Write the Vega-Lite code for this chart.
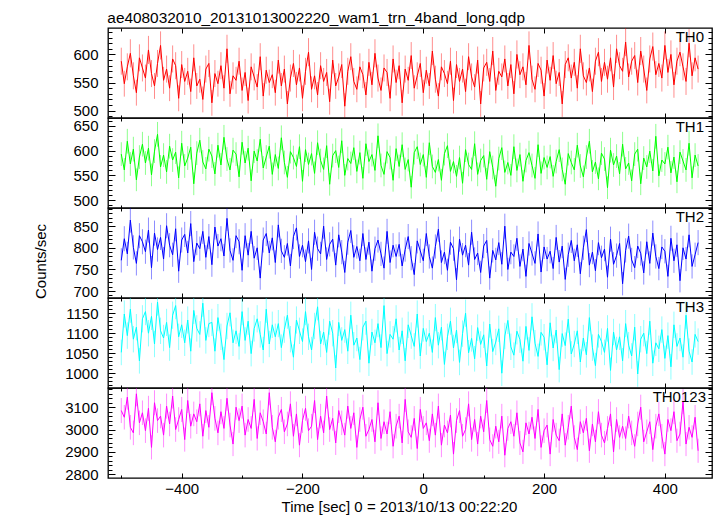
{
"$schema": "https://vega.github.io/schema/vega-lite/v6.json",
"background": "#ffffff",
"padding": {"left": 33, "top": 11, "right": 6, "bottom": 0},
"title": {"text": "ae408032010_20131013002220_wam1_trn_4band_long.qdp", "anchor": "start", "dx": 74, "offset": 0, "fontSize": 15.4, "fontWeight": "normal", "font": "Liberation Sans", "color": "#000000"},
"datasets": {"lc": [
{"t":-500,"th0":588,"e0":24,"th1":593,"e1":24,"th2":771,"e2":28,"th3":1052,"e3":32,"tot":3085,"e4":56},
{"t":-495,"th0":548,"e0":23,"th1":561,"e1":24,"th2":821,"e2":29,"th3":1148,"e3":34,"tot":3055,"e4":55},
{"t":-490,"th0":578,"e0":24,"th1":619,"e1":25,"th2":786,"e2":28,"th3":1094,"e3":33,"tot":3145,"e4":56},
{"t":-485,"th0":602,"e0":25,"th1":573,"e1":24,"th2":864,"e2":29,"th3":1160,"e3":34,"tot":3010,"e4":55},
{"t":-480,"th0":562,"e0":24,"th1":603,"e1":25,"th2":801,"e2":28,"th3":1085,"e3":33,"tot":2985,"e4":55},
{"t":-475,"th0":532,"e0":23,"th1":541,"e1":23,"th2":764,"e2":28,"th3":1115,"e3":33,"tot":3160,"e4":56},
{"t":-470,"th0":594,"e0":24,"th1":587,"e1":24,"th2":828,"e2":29,"th3":1031,"e3":32,"tot":3030,"e4":55},
{"t":-465,"th0":576,"e0":24,"th1":613,"e1":25,"th2":814,"e2":29,"th3":1136,"e3":34,"tot":3075,"e4":55},
{"t":-460,"th0":558,"e0":24,"th1":575,"e1":24,"th2":791,"e2":28,"th3":1154,"e3":34,"tot":2995,"e4":55},
{"t":-455,"th0":608,"e0":25,"th1":605,"e1":25,"th2":841,"e2":29,"th3":1100,"e3":33,"tot":3095,"e4":56},
{"t":-450,"th0":566,"e0":24,"th1":551,"e1":23,"th2":754,"e2":27,"th3":1142,"e3":34,"tot":2920,"e4":54},
{"t":-445,"th0":544,"e0":23,"th1":599,"e1":24,"th2":834,"e2":29,"th3":1073,"e3":33,"tot":3120,"e4":56},
{"t":-440,"th0":584,"e0":24,"th1":633,"e1":25,"th2":796,"e2":28,"th3":1178,"e3":34,"tot":3040,"e4":55},
{"t":-435,"th0":616,"e0":25,"th1":567,"e1":24,"th2":824,"e2":29,"th3":1106,"e3":33,"tot":3060,"e4":55},
{"t":-430,"th0":554,"e0":24,"th1":591,"e1":24,"th2":774,"e2":28,"th3":1088,"e3":33,"tot":2975,"e4":55},
{"t":-425,"th0":574,"e0":24,"th1":557,"e1":24,"th2":851,"e2":29,"th3":1127,"e3":34,"tot":3105,"e4":56},
{"t":-420,"th0":540,"e0":23,"th1":609,"e1":25,"th2":806,"e2":28,"th3":1064,"e3":33,"tot":3025,"e4":55},
{"t":-415,"th0":592,"e0":24,"th1":581,"e1":24,"th2":784,"e2":28,"th3":1145,"e3":34,"tot":3150,"e4":56},
{"t":-410,"th0":580,"e0":24,"th1":597,"e1":24,"th2":844,"e2":29,"th3":1169,"e3":34,"tot":3000,"e4":55},
{"t":-405,"th0":522,"e0":23,"th1":545,"e1":23,"th2":746,"e2":27,"th3":1091,"e3":33,"tot":3045,"e4":55},
{"t":-400,"th0":582,"e0":24,"th1":615,"e1":25,"th2":818,"e2":29,"th3":1121,"e3":33,"tot":3090,"e4":56},
{"t":-395,"th0":552,"e0":24,"th1":569,"e1":24,"th2":831,"e2":29,"th3":1076,"e3":33,"tot":2955,"e4":54},
{"t":-390,"th0":570,"e0":24,"th1":585,"e1":24,"th2":788,"e2":28,"th3":1133,"e3":34,"tot":3130,"e4":56},
{"t":-385,"th0":534,"e0":23,"th1":607,"e1":25,"th2":856,"e2":29,"th3":1055,"e3":32,"tot":3015,"e4":55},
{"t":-380,"th0":594,"e0":24,"th1":533,"e1":23,"th2":768,"e2":28,"th3":1157,"e3":34,"tot":3070,"e4":55},
{"t":-375,"th0":544,"e0":23,"th1":595,"e1":24,"th2":811,"e2":28,"th3":1112,"e3":33,"tot":3035,"e4":55},
{"t":-370,"th0":556,"e0":24,"th1":621,"e1":25,"th2":798,"e2":28,"th3":1097,"e3":33,"tot":3115,"e4":56},
{"t":-365,"th0":520,"e0":23,"th1":577,"e1":24,"th2":838,"e2":29,"th3":1175,"e3":34,"tot":2970,"e4":55},
{"t":-360,"th0":574,"e0":24,"th1":563,"e1":24,"th2":778,"e2":28,"th3":1082,"e3":33,"tot":3085,"e4":56},
{"t":-355,"th0":584,"e0":24,"th1":603,"e1":25,"th2":826,"e2":29,"th3":1124,"e3":34,"tot":3010,"e4":55},
{"t":-350,"th0":514,"e0":23,"th1":589,"e1":24,"th2":761,"e2":28,"th3":1127,"e3":34,"tot":3165,"e4":56},
{"t":-345,"th0":566,"e0":24,"th1":553,"e1":24,"th2":848,"e2":29,"th3":1055,"e3":32,"tot":3050,"e4":55},
{"t":-340,"th0":548,"e0":23,"th1":611,"e1":25,"th2":804,"e2":28,"th3":1139,"e3":34,"tot":2985,"e4":55},
{"t":-335,"th0":580,"e0":24,"th1":571,"e1":24,"th2":821,"e2":29,"th3":1091,"e3":33,"tot":3080,"e4":56},
{"t":-330,"th0":540,"e0":23,"th1":627,"e1":25,"th2":781,"e2":28,"th3":1034,"e3":32,"tot":3005,"e4":55},
{"t":-325,"th0":610,"e0":25,"th1":583,"e1":24,"th2":868,"e2":29,"th3":1118,"e3":33,"tot":3140,"e4":56},
{"t":-320,"th0":530,"e0":23,"th1":561,"e1":24,"th2":794,"e2":28,"th3":1151,"e3":34,"tot":3020,"e4":55},
{"t":-315,"th0":562,"e0":24,"th1":601,"e1":25,"th2":771,"e2":28,"th3":1076,"e3":33,"tot":2935,"e4":54},
{"t":-310,"th0":554,"e0":24,"th1":593,"e1":24,"th2":828,"e2":29,"th3":1106,"e3":33,"tot":3100,"e4":56},
{"t":-305,"th0":588,"e0":24,"th1":547,"e1":23,"th2":814,"e2":29,"th3":1067,"e3":33,"tot":3040,"e4":55},
{"t":-300,"th0":536,"e0":23,"th1":617,"e1":25,"th2":748,"e2":27,"th3":1154,"e3":34,"tot":3105,"e4":56},
{"t":-295,"th0":568,"e0":24,"th1":575,"e1":24,"th2":828,"e2":29,"th3":1082,"e3":33,"tot":2975,"e4":55},
{"t":-290,"th0":518,"e0":23,"th1":605,"e1":25,"th2":783,"e2":28,"th3":1130,"e3":34,"tot":3045,"e4":55},
{"t":-285,"th0":578,"e0":24,"th1":539,"e1":23,"th2":838,"e2":29,"th3":1049,"e3":32,"tot":3005,"e4":55},
{"t":-280,"th0":560,"e0":24,"th1":599,"e1":24,"th2":776,"e2":28,"th3":1112,"e3":33,"tot":3135,"e4":56},
{"t":-275,"th0":542,"e0":23,"th1":579,"e1":24,"th2":800,"e2":28,"th3":1136,"e3":34,"tot":2960,"e4":54},
{"t":-270,"th0":596,"e0":24,"th1":623,"e1":25,"th2":730,"e2":27,"th3":1097,"e3":33,"tot":3075,"e4":55},
{"t":-265,"th0":526,"e0":23,"th1":565,"e1":24,"th2":818,"e2":29,"th3":1058,"e3":33,"tot":3035,"e4":55},
{"t":-260,"th0":572,"e0":24,"th1":587,"e1":24,"th2":833,"e2":29,"th3":1160,"e3":34,"tot":2980,"e4":55},
{"t":-255,"th0":550,"e0":23,"th1":609,"e1":25,"th2":788,"e2":28,"th3":1073,"e3":33,"tot":3165,"e4":56},
{"t":-250,"th0":564,"e0":24,"th1":552,"e1":24,"th2":823,"e2":29,"th3":1121,"e3":33,"tot":3010,"e4":55},
{"t":-245,"th0":532,"e0":23,"th1":592,"e1":24,"th2":766,"e2":28,"th3":1091,"e3":33,"tot":2945,"e4":54},
{"t":-240,"th0":590,"e0":24,"th1":564,"e1":24,"th2":853,"e2":29,"th3":1124,"e3":34,"tot":3055,"e4":55},
{"t":-235,"th0":544,"e0":23,"th1":626,"e1":25,"th2":793,"e2":28,"th3":1064,"e3":33,"tot":3090,"e4":56},
{"t":-230,"th0":574,"e0":24,"th1":576,"e1":24,"th2":778,"e2":28,"th3":1109,"e3":33,"tot":2990,"e4":55},
{"t":-225,"th0":512,"e0":23,"th1":546,"e1":23,"th2":810,"e2":28,"th3":1145,"e3":34,"tot":3025,"e4":55},
{"t":-220,"th0":558,"e0":24,"th1":598,"e1":24,"th2":758,"e2":28,"th3":1085,"e3":33,"tot":3115,"e4":56},
{"t":-215,"th0":584,"e0":24,"th1":586,"e1":24,"th2":826,"e2":29,"th3":1040,"e3":32,"tot":2970,"e4":55},
{"t":-210,"th0":546,"e0":23,"th1":568,"e1":24,"th2":846,"e2":29,"th3":1133,"e3":34,"tot":3070,"e4":55},
{"t":-205,"th0":576,"e0":24,"th1":608,"e1":25,"th2":780,"e2":28,"th3":1106,"e3":33,"tot":2930,"e4":54},
{"t":-200,"th0":522,"e0":23,"th1":538,"e1":23,"th2":806,"e2":28,"th3":1079,"e3":33,"tot":3040,"e4":55},
{"t":-195,"th0":570,"e0":24,"th1":602,"e1":25,"th2":768,"e2":28,"th3":1154,"e3":34,"tot":3095,"e4":56},
{"t":-190,"th0":604,"e0":25,"th1":572,"e1":24,"th2":816,"e2":29,"th3":1091,"e3":33,"tot":2995,"e4":55},
{"t":-185,"th0":538,"e0":23,"th1":594,"e1":24,"th2":750,"e2":27,"th3":1058,"e3":33,"tot":3015,"e4":55},
{"t":-180,"th0":562,"e0":24,"th1":554,"e1":24,"th2":836,"e2":29,"th3":1118,"e3":33,"tot":3130,"e4":56},
{"t":-175,"th0":528,"e0":23,"th1":616,"e1":25,"th2":798,"e2":28,"th3":1166,"e3":34,"tot":2955,"e4":54},
{"t":-170,"th0":580,"e0":24,"th1":580,"e1":24,"th2":786,"e2":28,"th3":1073,"e3":33,"tot":3060,"e4":55},
{"t":-165,"th0":552,"e0":24,"th1":562,"e1":24,"th2":850,"e2":29,"th3":1103,"e3":33,"tot":2985,"e4":55},
{"t":-160,"th0":568,"e0":24,"th1":610,"e1":25,"th2":773,"e2":28,"th3":1052,"e3":32,"tot":3150,"e4":56},
{"t":-155,"th0":516,"e0":23,"th1":532,"e1":23,"th2":808,"e2":28,"th3":1130,"e3":34,"tot":3000,"e4":55},
{"t":-150,"th0":590,"e0":24,"th1":590,"e1":24,"th2":820,"e2":29,"th3":1100,"e3":33,"tot":3050,"e4":55},
{"t":-145,"th0":544,"e0":23,"th1":600,"e1":25,"th2":760,"e2":28,"th3":1013,"e3":32,"tot":2940,"e4":54},
{"t":-140,"th0":560,"e0":24,"th1":566,"e1":24,"th2":830,"e2":29,"th3":1127,"e3":34,"tot":3085,"e4":56},
{"t":-135,"th0":582,"e0":24,"th1":620,"e1":25,"th2":790,"e2":28,"th3":1082,"e3":33,"tot":3030,"e4":55},
{"t":-130,"th0":508,"e0":23,"th1":550,"e1":23,"th2":743,"e2":27,"th3":1109,"e3":33,"tot":2975,"e4":55},
{"t":-125,"th0":570,"e0":24,"th1":584,"e1":24,"th2":813,"e2":29,"th3":1055,"e3":32,"tot":3105,"e4":56},
{"t":-120,"th0":596,"e0":24,"th1":574,"e1":24,"th2":840,"e2":29,"th3":1145,"e3":34,"tot":3005,"e4":55},
{"t":-115,"th0":552,"e0":24,"th1":606,"e1":25,"th2":778,"e2":28,"th3":1070,"e3":33,"tot":3075,"e4":55},
{"t":-110,"th0":538,"e0":23,"th1":558,"e1":24,"th2":803,"e2":28,"th3":1088,"e3":33,"tot":2920,"e4":54},
{"t":-105,"th0":578,"e0":24,"th1":596,"e1":24,"th2":770,"e2":28,"th3":1034,"e3":32,"tot":3045,"e4":55},
{"t":-100,"th0":564,"e0":24,"th1":544,"e1":23,"th2":833,"e2":29,"th3":1115,"e3":33,"tot":3100,"e4":56},
{"t":-95,"th0":528,"e0":23,"th1":614,"e1":25,"th2":773,"e2":28,"th3":1130,"e3":34,"tot":2970,"e4":55},
{"t":-90,"th0":586,"e0":24,"th1":578,"e1":24,"th2":813,"e2":29,"th3":1025,"e3":32,"tot":3000,"e4":55},
{"t":-85,"th0":546,"e0":23,"th1":592,"e1":24,"th2":746,"e2":27,"th3":1103,"e3":33,"tot":3045,"e4":55},
{"t":-80,"th0":602,"e0":25,"th1":560,"e1":24,"th2":798,"e2":28,"th3":1076,"e3":33,"tot":2945,"e4":54},
{"t":-75,"th0":558,"e0":24,"th1":630,"e1":25,"th2":818,"e2":29,"th3":1124,"e3":34,"tot":3120,"e4":56},
{"t":-70,"th0":536,"e0":23,"th1":570,"e1":24,"th2":786,"e2":28,"th3":1064,"e3":33,"tot":2960,"e4":54},
{"t":-65,"th0":576,"e0":24,"th1":552,"e1":24,"th2":753,"e2":27,"th3":1169,"e3":34,"tot":3035,"e4":55},
{"t":-60,"th0":568,"e0":24,"th1":598,"e1":24,"th2":838,"e2":29,"th3":1049,"e3":32,"tot":2980,"e4":55},
{"t":-55,"th0":522,"e0":23,"th1":586,"e1":24,"th2":766,"e2":28,"th3":1097,"e3":33,"tot":3080,"e4":56},
{"t":-50,"th0":592,"e0":24,"th1":540,"e1":23,"th2":806,"e2":28,"th3":1085,"e3":33,"tot":2925,"e4":54},
{"t":-45,"th0":550,"e0":23,"th1":604,"e1":25,"th2":780,"e2":28,"th3":1136,"e3":34,"tot":3015,"e4":55},
{"t":-40,"th0":580,"e0":24,"th1":568,"e1":24,"th2":808,"e2":28,"th3":1058,"e3":33,"tot":3060,"e4":55},
{"t":-35,"th0":514,"e0":23,"th1":612,"e1":25,"th2":758,"e2":28,"th3":1106,"e3":33,"tot":2940,"e4":54},
{"t":-30,"th0":574,"e0":24,"th1":562,"e1":24,"th2":796,"e2":28,"th3":1031,"e3":32,"tot":3135,"e4":56},
{"t":-25,"th0":554,"e0":24,"th1":582,"e1":24,"th2":826,"e2":29,"th3":1121,"e3":33,"tot":2990,"e4":55},
{"t":-20,"th0":598,"e0":24,"th1":526,"e1":23,"th2":776,"e2":28,"th3":1094,"e3":33,"tot":2965,"e4":54},
{"t":-15,"th0":540,"e0":23,"th1":596,"e1":24,"th2":738,"e2":27,"th3":1067,"e3":33,"tot":3050,"e4":55},
{"t":-10,"th0":562,"e0":24,"th1":608,"e1":25,"th2":816,"e2":29,"th3":1148,"e3":34,"tot":2915,"e4":54},
{"t":-5,"th0":584,"e0":24,"th1":572,"e1":24,"th2":793,"e2":28,"th3":1043,"e3":32,"tot":3090,"e4":56},
{"t":0,"th0":532,"e0":23,"th1":592,"e1":24,"th2":770,"e2":28,"th3":1112,"e3":33,"tot":3005,"e4":55},
{"t":5,"th0":572,"e0":24,"th1":546,"e1":23,"th2":833,"e2":29,"th3":1079,"e3":33,"tot":3030,"e4":55},
{"t":10,"th0":544,"e0":23,"th1":616,"e1":25,"th2":780,"e2":28,"th3":1100,"e3":33,"tot":2950,"e4":54},
{"t":15,"th0":606,"e0":25,"th1":568,"e1":24,"th2":753,"e2":27,"th3":1052,"e3":32,"tot":3070,"e4":55},
{"t":20,"th0":556,"e0":24,"th1":556,"e1":24,"th2":803,"e2":28,"th3":1139,"e3":34,"tot":2975,"e4":55},
{"t":25,"th0":526,"e0":23,"th1":582,"e1":24,"th2":843,"e2":29,"th3":1070,"e3":33,"tot":3105,"e4":56},
{"t":30,"th0":578,"e0":24,"th1":540,"e1":23,"th2":766,"e2":28,"th3":1115,"e3":33,"tot":2930,"e4":54},
{"t":35,"th0":566,"e0":24,"th1":594,"e1":24,"th2":790,"e2":28,"th3":1022,"e3":32,"tot":3020,"e4":55},
{"t":40,"th0":548,"e0":23,"th1":610,"e1":25,"th2":748,"e2":27,"th3":1091,"e3":33,"tot":2985,"e4":55},
{"t":45,"th0":588,"e0":24,"th1":558,"e1":24,"th2":813,"e2":29,"th3":1130,"e3":34,"tot":3065,"e4":55},
{"t":50,"th0":518,"e0":23,"th1":578,"e1":24,"th2":798,"e2":28,"th3":1063,"e3":33,"tot":2890,"e4":54},
{"t":55,"th0":582,"e0":24,"th1":548,"e1":23,"th2":726,"e2":27,"th3":1108,"e3":33,"tot":3040,"e4":55},
{"t":60,"th0":552,"e0":24,"th1":586,"e1":24,"th2":820,"e2":29,"th3":1027,"e3":32,"tot":3085,"e4":56},
{"t":65,"th0":574,"e0":24,"th1":534,"e1":23,"th2":783,"e2":28,"th3":1099,"e3":33,"tot":2970,"e4":55},
{"t":70,"th0":534,"e0":23,"th1":602,"e1":25,"th2":806,"e2":28,"th3":1150,"e3":34,"tot":3000,"e4":55},
{"t":75,"th0":596,"e0":24,"th1":572,"e1":24,"th2":760,"e2":28,"th3":1051,"e3":32,"tot":3115,"e4":56},
{"t":80,"th0":560,"e0":24,"th1":562,"e1":24,"th2":836,"e2":29,"th3":1087,"e3":33,"tot":2955,"e4":54},
{"t":85,"th0":542,"e0":23,"th1":614,"e1":25,"th2":773,"e2":28,"th3":1036,"e3":32,"tot":3045,"e4":55},
{"t":90,"th0":590,"e0":24,"th1":552,"e1":24,"th2":788,"e2":28,"th3":1114,"e3":33,"tot":2935,"e4":54},
{"t":95,"th0":512,"e0":23,"th1":580,"e1":24,"th2":743,"e2":27,"th3":1072,"e3":33,"tot":3060,"e4":55},
{"t":100,"th0":576,"e0":24,"th1":590,"e1":24,"th2":804,"e2":28,"th3":1096,"e3":33,"tot":2990,"e4":55},
{"t":105,"th0":586,"e0":24,"th1":542,"e1":23,"th2":817,"e2":29,"th3":1018,"e3":32,"tot":3130,"e4":56},
{"t":110,"th0":552,"e0":24,"th1":598,"e1":24,"th2":730,"e2":27,"th3":1123,"e3":34,"tot":2955,"e4":54},
{"t":115,"th0":606,"e0":25,"th1":566,"e1":24,"th2":794,"e2":28,"th3":1054,"e3":32,"tot":2925,"e4":54},
{"t":120,"th0":536,"e0":23,"th1":528,"e1":23,"th2":772,"e2":28,"th3":1078,"e3":33,"tot":3015,"e4":55},
{"t":125,"th0":570,"e0":24,"th1":584,"e1":24,"th2":812,"e2":29,"th3":1111,"e3":33,"tot":2945,"e4":54},
{"t":130,"th0":560,"e0":24,"th1":606,"e1":25,"th2":762,"e2":28,"th3":1000,"e3":32,"tot":3060,"e4":55},
{"t":135,"th0":592,"e0":24,"th1":556,"e1":24,"th2":850,"e2":29,"th3":1093,"e3":33,"tot":2885,"e4":54},
{"t":140,"th0":544,"e0":23,"th1":576,"e1":24,"th2":750,"e2":27,"th3":1132,"e3":34,"tot":3005,"e4":55},
{"t":145,"th0":582,"e0":24,"th1":550,"e1":23,"th2":790,"e2":28,"th3":1066,"e3":33,"tot":3035,"e4":55},
{"t":150,"th0":530,"e0":23,"th1":608,"e1":25,"th2":780,"e2":28,"th3":1045,"e3":32,"tot":2970,"e4":55},
{"t":155,"th0":600,"e0":25,"th1":560,"e1":24,"th2":822,"e2":29,"th3":1105,"e3":33,"tot":3075,"e4":55},
{"t":160,"th0":564,"e0":24,"th1":592,"e1":24,"th2":757,"e2":28,"th3":1084,"e3":33,"tot":2940,"e4":54},
{"t":165,"th0":578,"e0":24,"th1":538,"e1":23,"th2":797,"e2":28,"th3":1030,"e3":32,"tot":2900,"e4":54},
{"t":170,"th0":546,"e0":23,"th1":580,"e1":24,"th2":734,"e2":27,"th3":1117,"e3":33,"tot":3030,"e4":55},
{"t":175,"th0":616,"e0":25,"th1":596,"e1":24,"th2":810,"e2":28,"th3":1057,"e3":33,"tot":2980,"e4":55},
{"t":180,"th0":556,"e0":24,"th1":570,"e1":24,"th2":787,"e2":28,"th3":1141,"e3":34,"tot":3055,"e4":55},
{"t":185,"th0":538,"e0":23,"th1":544,"e1":23,"th2":764,"e2":28,"th3":1075,"e3":33,"tot":2960,"e4":54},
{"t":190,"th0":584,"e0":24,"th1":612,"e1":25,"th2":832,"e2":29,"th3":1042,"e3":32,"tot":3090,"e4":56},
{"t":195,"th0":572,"e0":24,"th1":554,"e1":24,"th2":744,"e2":27,"th3":1102,"e3":33,"tot":2920,"e4":54},
{"t":200,"th0":526,"e0":23,"th1":586,"e1":24,"th2":802,"e2":28,"th3":1090,"e3":33,"tot":2995,"e4":55},
{"t":205,"th0":590,"e0":24,"th1":566,"e1":24,"th2":774,"e2":28,"th3":1021,"e3":32,"tot":3020,"e4":55},
{"t":210,"th0":554,"e0":24,"th1":588,"e1":24,"th2":792,"e2":28,"th3":1126,"e3":34,"tot":2890,"e4":54},
{"t":215,"th0":598,"e0":24,"th1":548,"e1":23,"th2":752,"e2":27,"th3":1063,"e3":33,"tot":3045,"e4":55},
{"t":220,"th0":548,"e0":23,"th1":578,"e1":24,"th2":824,"e2":29,"th3":1108,"e3":33,"tot":2975,"e4":55},
{"t":225,"th0":568,"e0":24,"th1":602,"e1":25,"th2":767,"e2":28,"th3":1009,"e3":32,"tot":2950,"e4":54},
{"t":230,"th0":512,"e0":23,"th1":562,"e1":24,"th2":804,"e2":28,"th3":1099,"e3":33,"tot":3070,"e4":55},
{"t":235,"th0":582,"e0":24,"th1":532,"e1":23,"th2":727,"e2":27,"th3":1069,"e3":33,"tot":2930,"e4":54},
{"t":240,"th0":594,"e0":24,"th1":594,"e1":24,"th2":784,"e2":28,"th3":1135,"e3":34,"tot":3010,"e4":55},
{"t":245,"th0":558,"e0":24,"th1":576,"e1":24,"th2":817,"e2":29,"th3":1048,"e3":32,"tot":3105,"e4":56},
{"t":250,"th0":586,"e0":24,"th1":561,"e1":24,"th2":770,"e2":28,"th3":1073,"e3":33,"tot":2965,"e4":54},
{"t":255,"th0":540,"e0":23,"th1":611,"e1":25,"th2":807,"e2":28,"th3":1106,"e3":33,"tot":2910,"e4":54},
{"t":260,"th0":610,"e0":25,"th1":569,"e1":24,"th2":740,"e2":27,"th3":1028,"e3":32,"tot":3035,"e4":55},
{"t":265,"th0":562,"e0":24,"th1":547,"e1":23,"th2":800,"e2":28,"th3":1088,"e3":33,"tot":2985,"e4":55},
{"t":270,"th0":550,"e0":23,"th1":587,"e1":24,"th2":842,"e2":29,"th3":1046,"e3":32,"tot":3050,"e4":55},
{"t":275,"th0":576,"e0":24,"th1":619,"e1":25,"th2":760,"e2":28,"th3":1139,"e3":34,"tot":2905,"e4":54},
{"t":280,"th0":534,"e0":23,"th1":557,"e1":24,"th2":790,"e2":28,"th3":1064,"e3":33,"tot":3025,"e4":55},
{"t":285,"th0":588,"e0":24,"th1":577,"e1":24,"th2":747,"e2":27,"th3":1019,"e3":32,"tot":2945,"e4":54},
{"t":290,"th0":604,"e0":25,"th1":543,"e1":23,"th2":812,"e2":29,"th3":1097,"e3":33,"tot":3080,"e4":56},
{"t":295,"th0":552,"e0":24,"th1":595,"e1":24,"th2":777,"e2":28,"th3":1079,"e3":33,"tot":2975,"e4":55},
{"t":300,"th0":586,"e0":24,"th1":583,"e1":24,"th2":797,"e2":28,"th3":1052,"e3":32,"tot":2940,"e4":54},
{"t":305,"th0":556,"e0":24,"th1":525,"e1":23,"th2":732,"e2":27,"th3":1112,"e3":33,"tot":3005,"e4":55},
{"t":310,"th0":594,"e0":24,"th1":601,"e1":25,"th2":820,"e2":29,"th3":1007,"e3":32,"tot":3070,"e4":55},
{"t":315,"th0":542,"e0":23,"th1":571,"e1":24,"th2":762,"e2":28,"th3":1103,"e3":33,"tot":2900,"e4":54},
{"t":320,"th0":610,"e0":25,"th1":589,"e1":24,"th2":782,"e2":28,"th3":1058,"e3":33,"tot":3045,"e4":55},
{"t":325,"th0":580,"e0":24,"th1":553,"e1":24,"th2":810,"e2":28,"th3":1091,"e3":33,"tot":2965,"e4":54},
{"t":330,"th0":570,"e0":24,"th1":613,"e1":25,"th2":717,"e2":27,"th3":1031,"e3":32,"tot":3015,"e4":55},
{"t":335,"th0":622,"e0":25,"th1":563,"e1":24,"th2":794,"e2":28,"th3":1124,"e3":34,"tot":2960,"e4":54},
{"t":340,"th0":560,"e0":24,"th1":575,"e1":24,"th2":827,"e2":29,"th3":1070,"e3":33,"tot":3060,"e4":55},
{"t":345,"th0":588,"e0":24,"th1":539,"e1":23,"th2":772,"e2":28,"th3":1043,"e3":32,"tot":2985,"e4":55},
{"t":350,"th0":598,"e0":24,"th1":593,"e1":24,"th2":754,"e2":27,"th3":1115,"e3":33,"tot":2925,"e4":54},
{"t":355,"th0":550,"e0":23,"th1":603,"e1":25,"th2":804,"e2":28,"th3":998,"e3":32,"tot":3025,"e4":55},
{"t":360,"th0":606,"e0":25,"th1":533,"e1":23,"th2":787,"e2":28,"th3":1085,"e3":33,"tot":3100,"e4":56},
{"t":365,"th0":574,"e0":24,"th1":585,"e1":24,"th2":742,"e2":27,"th3":1100,"e3":33,"tot":2945,"e4":54},
{"t":370,"th0":536,"e0":23,"th1":567,"e1":24,"th2":814,"e2":29,"th3":1049,"e3":32,"tot":2990,"e4":55},
{"t":375,"th0":592,"e0":24,"th1":599,"e1":24,"th2":764,"e2":28,"th3":1130,"e3":34,"tot":3035,"e4":55},
{"t":380,"th0":614,"e0":25,"th1":559,"e1":24,"th2":834,"e2":29,"th3":1025,"e3":32,"tot":2910,"e4":54},
{"t":385,"th0":564,"e0":24,"th1":629,"e1":25,"th2":780,"e2":28,"th3":1076,"e3":33,"tot":3015,"e4":55},
{"t":390,"th0":584,"e0":24,"th1":549,"e1":23,"th2":752,"e2":27,"th3":1061,"e3":33,"tot":3070,"e4":55},
{"t":395,"th0":558,"e0":24,"th1":581,"e1":24,"th2":802,"e2":28,"th3":1109,"e3":33,"tot":2970,"e4":55},
{"t":400,"th0":616,"e0":25,"th1":573,"e1":24,"th2":792,"e2":28,"th3":1037,"e3":32,"tot":2890,"e4":54},
{"t":405,"th0":568,"e0":24,"th1":607,"e1":25,"th2":734,"e2":27,"th3":1094,"e3":33,"tot":3045,"e4":55},
{"t":410,"th0":600,"e0":25,"th1":555,"e1":24,"th2":822,"e2":29,"th3":1016,"e3":32,"tot":2995,"e4":55},
{"t":415,"th0":546,"e0":23,"th1":587,"e1":24,"th2":770,"e2":28,"th3":1121,"e3":33,"tot":3080,"e4":56},
{"t":420,"th0":588,"e0":24,"th1":537,"e1":23,"th2":807,"e2":28,"th3":1067,"e3":33,"tot":2950,"e4":54},
{"t":425,"th0":604,"e0":25,"th1":597,"e1":24,"th2":724,"e2":27,"th3":1088,"e3":33,"tot":2980,"e4":55},
{"t":430,"th0":578,"e0":24,"th1":579,"e1":24,"th2":800,"e2":28,"th3":1040,"e3":32,"tot":3125,"e4":56},
{"t":435,"th0":552,"e0":24,"th1":561,"e1":24,"th2":774,"e2":28,"th3":1145,"e3":34,"tot":2935,"e4":54},
{"t":440,"th0":620,"e0":25,"th1":615,"e1":25,"th2":830,"e2":29,"th3":1055,"e3":32,"tot":3010,"e4":55},
{"t":445,"th0":562,"e0":24,"th1":545,"e1":23,"th2":757,"e2":28,"th3":1028,"e3":32,"tot":2965,"e4":54},
{"t":450,"th0":594,"e0":24,"th1":591,"e1":24,"th2":784,"e2":28,"th3":1097,"e3":33,"tot":3055,"e4":55},
{"t":455,"th0":574,"e0":24,"th1":569,"e1":24,"th2":812,"e2":29,"th3":1079,"e3":33,"tot":2905,"e4":54}
]},
"data": {"name": "lc"},
"spacing": 0,
"bounds": "flush",
"vconcat": [
{"width": 604, "height": 90,
 "layer": [
  {"mark": {"type": "errorbar", "ticks": false, "clip": true, "color": "#ff0000", "opacity": 0.45, "thickness": 1},
   "encoding": {"x": {"field": "t", "type": "quantitative", "axis": null}, "y": {"field": "th0", "type": "quantitative", "axis": null}, "yError": {"field": "e0"}}},
  {"mark": {"type": "line", "color": "#ff0000", "strokeWidth": 1, "clip": true},
   "encoding": {
    "x": {"field": "t", "type": "quantitative", "scale": {"domain": [-522, 478], "nice": false, "zero": false}, "axis": {"orient": "bottom", "values": [-400,-200,0,200,400], "tickSize": -5, "labels": false, "title": null}},
    "y": {"field": "th0", "type": "quantitative", "scale": {"domain": [487, 647], "nice": false, "zero": false}, "axis": {"orient": "left", "format": "d", "values": [500,550,600], "tickSize": -7, "labelPadding": 17, "title": null}}}},
  {"mark": {"type": "line", "strokeOpacity": 0, "clip": true},
   "encoding": {
    "x": {"field": "t", "type": "quantitative", "axis": {"orient": "bottom", "values": [-500,-300,-100,100,300], "tickSize": -3, "labels": false, "title": null}},
    "y": {"field": "th0", "type": "quantitative", "axis": {"orient": "left", "values": [490,510,520,530,540,560,570,580,590,610,620,630,640], "tickSize": -4, "labels": false, "title": null}}}},
  {"mark": {"type": "line", "strokeOpacity": 0, "clip": true},
   "encoding": {
    "x": {"field": "t", "type": "quantitative", "axis": {"orient": "top", "values": [-400,-200,0,200,400], "tickSize": -5, "labels": false, "title": null}},
    "y": {"field": "th0", "type": "quantitative", "axis": {"orient": "right", "values": [500,550,600], "tickSize": -7, "labels": false, "title": null}}}},
  {"mark": {"type": "line", "strokeOpacity": 0, "clip": true},
   "encoding": {
    "x": {"field": "t", "type": "quantitative", "axis": {"orient": "top", "values": [-500,-300,-100,100,300], "tickSize": -3, "labels": false, "title": null}},
    "y": {"field": "th0", "type": "quantitative", "axis": {"orient": "right", "values": [490,510,520,530,540,560,570,580,590,610,620,630,640], "tickSize": -4, "labels": false, "title": null}}}},
  {"data": {"values": [{"lab": "TH0"}]},
   "mark": {"type": "text", "align": "right", "baseline": "top", "dx": -8, "dy": 2, "fontSize": 15, "font": "Liberation Sans", "color": "#000000"},
   "encoding": {"text": {"field": "lab"}, "x": {"value": "width"}, "y": {"value": 0}}}
 ],
 "resolve": {"axis": {"x": "independent", "y": "independent"}}
},
{"width": 604, "height": 90,
 "layer": [
  {"mark": {"type": "errorbar", "ticks": false, "clip": true, "color": "#00ff00", "opacity": 0.45, "thickness": 1},
   "encoding": {"x": {"field": "t", "type": "quantitative", "axis": null}, "y": {"field": "th1", "type": "quantitative", "axis": null}, "yError": {"field": "e1"}}},
  {"mark": {"type": "line", "color": "#00ff00", "strokeWidth": 1, "clip": true},
   "encoding": {
    "x": {"field": "t", "type": "quantitative", "scale": {"domain": [-522, 478], "nice": false, "zero": false}, "axis": {"orient": "bottom", "values": [-400,-200,0,200,400], "tickSize": -5, "labels": false, "title": null}},
    "y": {"field": "th1", "type": "quantitative", "scale": {"domain": [484, 666], "nice": false, "zero": false}, "axis": {"orient": "left", "format": "d", "values": [500,550,600,650], "tickSize": -7, "labelPadding": 17, "title": null}}}},
  {"mark": {"type": "line", "strokeOpacity": 0, "clip": true},
   "encoding": {
    "x": {"field": "t", "type": "quantitative", "axis": {"orient": "bottom", "values": [-500,-300,-100,100,300], "tickSize": -3, "labels": false, "title": null}},
    "y": {"field": "th1", "type": "quantitative", "axis": {"orient": "left", "values": [490,510,520,530,540,560,570,580,590,610,620,630,640,660], "tickSize": -4, "labels": false, "title": null}}}},
  {"mark": {"type": "line", "strokeOpacity": 0, "clip": true},
   "encoding": {
    "x": {"field": "t", "type": "quantitative", "axis": {"orient": "top", "values": [-400,-200,0,200,400], "tickSize": -5, "labels": false, "title": null}},
    "y": {"field": "th1", "type": "quantitative", "axis": {"orient": "right", "values": [500,550,600,650], "tickSize": -7, "labels": false, "title": null}}}},
  {"mark": {"type": "line", "strokeOpacity": 0, "clip": true},
   "encoding": {
    "x": {"field": "t", "type": "quantitative", "axis": {"orient": "top", "values": [-500,-300,-100,100,300], "tickSize": -3, "labels": false, "title": null}},
    "y": {"field": "th1", "type": "quantitative", "axis": {"orient": "right", "values": [490,510,520,530,540,560,570,580,590,610,620,630,640,660], "tickSize": -4, "labels": false, "title": null}}}},
  {"data": {"values": [{"lab": "TH1"}]},
   "mark": {"type": "text", "align": "right", "baseline": "top", "dx": -8, "dy": 2, "fontSize": 15, "font": "Liberation Sans", "color": "#000000"},
   "encoding": {"text": {"field": "lab"}, "x": {"value": "width"}, "y": {"value": 0}}}
 ],
 "resolve": {"axis": {"x": "independent", "y": "independent"}}
},
{"width": 604, "height": 90,
 "layer": [
  {"mark": {"type": "errorbar", "ticks": false, "clip": true, "color": "#0000ff", "opacity": 0.45, "thickness": 1},
   "encoding": {"x": {"field": "t", "type": "quantitative", "axis": null}, "y": {"field": "th2", "type": "quantitative", "axis": null}, "yError": {"field": "e2"}}},
  {"mark": {"type": "line", "color": "#0000ff", "strokeWidth": 1, "clip": true},
   "encoding": {
    "x": {"field": "t", "type": "quantitative", "scale": {"domain": [-522, 478], "nice": false, "zero": false}, "axis": {"orient": "bottom", "values": [-400,-200,0,200,400], "tickSize": -5, "labels": false, "title": null}},
    "y": {"field": "th2", "type": "quantitative", "scale": {"domain": [684, 892], "nice": false, "zero": false}, "axis": {"orient": "left", "format": "d", "values": [700,750,800,850], "tickSize": -7, "labelPadding": 17, "title": "Counts/sec", "titlePadding": 24, "titleY": 53}}}},
  {"mark": {"type": "line", "strokeOpacity": 0, "clip": true},
   "encoding": {
    "x": {"field": "t", "type": "quantitative", "axis": {"orient": "bottom", "values": [-500,-300,-100,100,300], "tickSize": -3, "labels": false, "title": null}},
    "y": {"field": "th2", "type": "quantitative", "axis": {"orient": "left", "values": [690,710,720,730,740,760,770,780,790,810,820,830,840,860,870,880,890], "tickSize": -4, "labels": false, "title": null}}}},
  {"mark": {"type": "line", "strokeOpacity": 0, "clip": true},
   "encoding": {
    "x": {"field": "t", "type": "quantitative", "axis": {"orient": "top", "values": [-400,-200,0,200,400], "tickSize": -5, "labels": false, "title": null}},
    "y": {"field": "th2", "type": "quantitative", "axis": {"orient": "right", "values": [700,750,800,850], "tickSize": -7, "labels": false, "title": null}}}},
  {"mark": {"type": "line", "strokeOpacity": 0, "clip": true},
   "encoding": {
    "x": {"field": "t", "type": "quantitative", "axis": {"orient": "top", "values": [-500,-300,-100,100,300], "tickSize": -3, "labels": false, "title": null}},
    "y": {"field": "th2", "type": "quantitative", "axis": {"orient": "right", "values": [690,710,720,730,740,760,770,780,790,810,820,830,840,860,870,880,890], "tickSize": -4, "labels": false, "title": null}}}},
  {"data": {"values": [{"lab": "TH2"}]},
   "mark": {"type": "text", "align": "right", "baseline": "top", "dx": -8, "dy": 2, "fontSize": 15, "font": "Liberation Sans", "color": "#000000"},
   "encoding": {"text": {"field": "lab"}, "x": {"value": "width"}, "y": {"value": 0}}}
 ],
 "resolve": {"axis": {"x": "independent", "y": "independent"}}
},
{"width": 604, "height": 90,
 "layer": [
  {"mark": {"type": "errorbar", "ticks": false, "clip": true, "color": "#00ffff", "opacity": 0.45, "thickness": 1},
   "encoding": {"x": {"field": "t", "type": "quantitative", "axis": null}, "y": {"field": "th3", "type": "quantitative", "axis": null}, "yError": {"field": "e3"}}},
  {"mark": {"type": "line", "color": "#00ffff", "strokeWidth": 1, "clip": true},
   "encoding": {
    "x": {"field": "t", "type": "quantitative", "scale": {"domain": [-522, 478], "nice": false, "zero": false}, "axis": {"orient": "bottom", "values": [-400,-200,0,200,400], "tickSize": -5, "labels": false, "title": null}},
    "y": {"field": "th3", "type": "quantitative", "scale": {"domain": [963, 1188], "nice": false, "zero": false}, "axis": {"orient": "left", "format": "d", "values": [1000,1050,1100,1150], "tickSize": -7, "labelPadding": 17, "title": null}}}},
  {"mark": {"type": "line", "strokeOpacity": 0, "clip": true},
   "encoding": {
    "x": {"field": "t", "type": "quantitative", "axis": {"orient": "bottom", "values": [-500,-300,-100,100,300], "tickSize": -3, "labels": false, "title": null}},
    "y": {"field": "th3", "type": "quantitative", "axis": {"orient": "left", "values": [970,980,990,1010,1020,1030,1040,1060,1070,1080,1090,1110,1120,1130,1140,1160,1170,1180], "tickSize": -4, "labels": false, "title": null}}}},
  {"mark": {"type": "line", "strokeOpacity": 0, "clip": true},
   "encoding": {
    "x": {"field": "t", "type": "quantitative", "axis": {"orient": "top", "values": [-400,-200,0,200,400], "tickSize": -5, "labels": false, "title": null}},
    "y": {"field": "th3", "type": "quantitative", "axis": {"orient": "right", "values": [1000,1050,1100,1150], "tickSize": -7, "labels": false, "title": null}}}},
  {"mark": {"type": "line", "strokeOpacity": 0, "clip": true},
   "encoding": {
    "x": {"field": "t", "type": "quantitative", "axis": {"orient": "top", "values": [-500,-300,-100,100,300], "tickSize": -3, "labels": false, "title": null}},
    "y": {"field": "th3", "type": "quantitative", "axis": {"orient": "right", "values": [970,980,990,1010,1020,1030,1040,1060,1070,1080,1090,1110,1120,1130,1140,1160,1170,1180], "tickSize": -4, "labels": false, "title": null}}}},
  {"data": {"values": [{"lab": "TH3"}]},
   "mark": {"type": "text", "align": "right", "baseline": "top", "dx": -8, "dy": 2, "fontSize": 15, "font": "Liberation Sans", "color": "#000000"},
   "encoding": {"text": {"field": "lab"}, "x": {"value": "width"}, "y": {"value": 0}}}
 ],
 "resolve": {"axis": {"x": "independent", "y": "independent"}}
},
{"width": 604, "height": 90,
 "layer": [
  {"mark": {"type": "errorbar", "ticks": false, "clip": true, "color": "#ff00ff", "opacity": 0.45, "thickness": 1},
   "encoding": {"x": {"field": "t", "type": "quantitative", "axis": null}, "y": {"field": "tot", "type": "quantitative", "axis": null}, "yError": {"field": "e4"}}},
  {"mark": {"type": "line", "color": "#ff00ff", "strokeWidth": 1, "clip": true},
   "encoding": {
    "x": {"field": "t", "type": "quantitative", "scale": {"domain": [-522, 478], "nice": false, "zero": false}, "axis": {"orient": "bottom", "format": "d", "values": [-400,-200,0,200,400], "tickSize": -5, "labelPadding": 8, "title": "Time [sec] 0 = 2013/10/13 00:22:20", "titlePadding": 3, "titleX": 291}},
    "y": {"field": "tot", "type": "quantitative", "scale": {"domain": [2783, 3186], "nice": false, "zero": false}, "axis": {"orient": "left", "format": "d", "values": [2800,2900,3000,3100], "tickSize": -7, "labelPadding": 17, "title": null}}}},
  {"mark": {"type": "line", "strokeOpacity": 0, "clip": true},
   "encoding": {
    "x": {"field": "t", "type": "quantitative", "axis": {"orient": "bottom", "values": [-500,-300,-100,100,300], "tickSize": -3, "labels": false, "title": null}},
    "y": {"field": "tot", "type": "quantitative", "axis": {"orient": "left", "values": [2820,2840,2860,2880,2920,2940,2960,2980,3020,3040,3060,3080,3120,3140,3160,3180], "tickSize": -4, "labels": false, "title": null}}}},
  {"mark": {"type": "line", "strokeOpacity": 0, "clip": true},
   "encoding": {
    "x": {"field": "t", "type": "quantitative", "axis": {"orient": "top", "values": [-400,-200,0,200,400], "tickSize": -5, "labels": false, "title": null}},
    "y": {"field": "tot", "type": "quantitative", "axis": {"orient": "right", "values": [2800,2900,3000,3100], "tickSize": -7, "labels": false, "title": null}}}},
  {"mark": {"type": "line", "strokeOpacity": 0, "clip": true},
   "encoding": {
    "x": {"field": "t", "type": "quantitative", "axis": {"orient": "top", "values": [-500,-300,-100,100,300], "tickSize": -3, "labels": false, "title": null}},
    "y": {"field": "tot", "type": "quantitative", "axis": {"orient": "right", "values": [2820,2840,2860,2880,2920,2940,2960,2980,3020,3040,3060,3080,3120,3140,3160,3180], "tickSize": -4, "labels": false, "title": null}}}},
  {"data": {"values": [{"lab": "TH0123"}]},
   "mark": {"type": "text", "align": "right", "baseline": "top", "dx": -6, "dy": 2, "fontSize": 15, "font": "Liberation Sans", "color": "#000000"},
   "encoding": {"text": {"field": "lab"}, "x": {"value": "width"}, "y": {"value": 0}}}
 ],
 "resolve": {"axis": {"x": "independent", "y": "independent"}}
}
],
"config": {
 "view": {"stroke": "#000000", "strokeWidth": 1.3},
 "axis": {"domain": false, "grid": false, "tickColor": "#000000", "tickWidth": 1, "labelFont": "Liberation Sans", "labelFontSize": 15, "labelColor": "#000000", "titleFont": "Liberation Sans", "titleFontSize": 15, "titleColor": "#000000", "titleFontWeight": "normal", "labelOverlap": false, "labelFlush": false, "labelBound": false}
}
}
